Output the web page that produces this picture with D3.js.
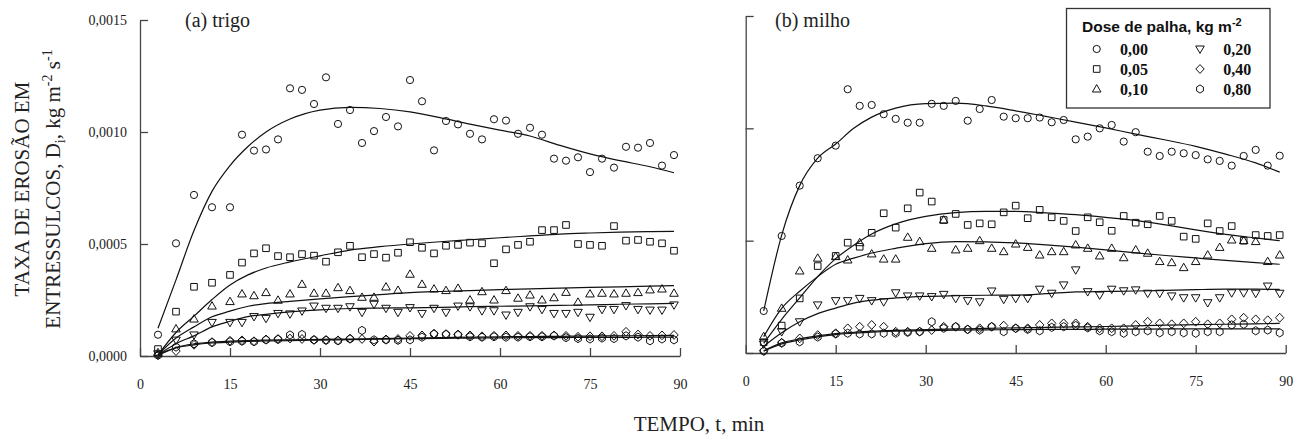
<!DOCTYPE html>
<html>
<head>
<meta charset="utf-8">
<script src="https://cdnjs.cloudflare.com/ajax/libs/d3/7.8.5/d3.min.js"></script>
<style>
	body { margin: 0; background: #fff; }
	svg { display: block; }
	.axis path, .axis line { stroke: #444; stroke-width: 1.3; }
	.title { font-family: "Liberation Serif", "Times New Roman", serif; font-size: 21px; fill: #222; }
	.panel-label { font-family: "Liberation Serif", "Times New Roman", serif; font-size: 20px; fill: #222; }
</style>
</head>
<body>
<svg width="1295" height="435" id="chart"></svg>
<script>
// values in 10^-6 kg m-2 s-1
var times = [3, 6, 9, 12, 15, 17, 19, 21, 23, 25, 27, 29, 31, 33, 35, 37, 39, 41, 43, 45, 47,
	49, 51, 53, 55, 57, 59, 61, 63, 65, 67, 69, 71, 73, 75, 77, 79, 81, 83, 85, 87, 89];
var fitTimes = [3, 6, 9, 12, 15, 18, 21, 25, 30, 35, 40, 45, 50, 55, 60, 65, 70, 75, 80, 85, 89];

var doses = ["0,00", "0,05", "0,10", "0,20", "0,40", "0,80"];
var xTicks = [0, 15, 30, 45, 60, 75, 90];
var yTicks = [0, 500, 1000, 1500];

// (a) trigo - measured
var trigo000 = [95, 503, 719, 664, 664, 988, 917, 922, 967, 1195, 1188, 1125, 1244, 1036, 1098, 951, 1004, 1067, 1025, 1232, 1137,
	918, 1049, 1034, 992, 967, 1057, 1051, 992, 1019, 988, 881, 872, 887, 821, 881, 841, 934, 930, 951, 850, 897];
var trigo005 = [31, 198, 309, 327, 362, 417, 458, 481, 446, 441, 455, 448, 421, 463, 492, 441, 455, 439, 461, 508, 483,
	458, 492, 496, 506, 503, 414, 476, 496, 510, 562, 562, 585, 500, 496, 492, 580, 515, 518, 510, 503, 470];
var trigo010 = [15, 121, 165, 223, 243, 277, 269, 283, 249, 277, 320, 280, 280, 305, 292, 262, 262, 308, 293, 365, 320,
	299, 292, 302, 250, 287, 250, 292, 258, 272, 250, 260, 284, 240, 277, 280, 277, 280, 283, 295, 299, 280];
var trigo020 = [10, 71, 94, 150, 150, 150, 176, 168, 190, 188, 201, 223, 213, 213, 220, 195, 231, 213, 195, 216, 190,
	213, 195, 223, 220, 202, 202, 183, 195, 220, 208, 190, 190, 195, 173, 208, 208, 225, 208, 205, 205, 228];
var trigo040 = [5, 22, 50, 62, 68, 70, 66, 74, 76, 78, 76, 72, 72, 70, 78, 76, 64, 74, 76, 90, 92,
	100, 98, 96, 92, 88, 90, 92, 90, 90, 90, 92, 90, 86, 88, 88, 90, 108, 96, 90, 92, 94];
var trigo080 = [3, 40, 55, 60, 64, 66, 64, 72, 74, 94, 96, 72, 70, 68, 76, 114, 72, 72, 70, 72, 84,
	98, 96, 94, 86, 84, 86, 84, 84, 86, 86, 90, 82, 78, 76, 80, 78, 90, 84, 68, 76, 72];

// (a) trigo - fitted curves
var trigoFit000 = [124, 340, 560, 735, 850, 935, 1000, 1058, 1098, 1110, 1105, 1090, 1064, 1035, 1008, 982, 940, 902, 872, 845, 818];
var trigoFit005 = [5, 105, 178, 252, 317, 362, 393, 420, 447, 473, 488, 500, 510, 519, 528, 536, 544, 549, 553, 555, 556];
var trigoFit010 = [5, 80, 130, 175, 200, 222, 234, 244, 255, 265, 274, 283, 288, 292, 296, 300, 303, 306, 309, 312, 314];
var trigoFit020 = [5, 55, 90, 130, 155, 176, 186, 197, 206, 212, 214, 215, 217, 220, 222, 224, 226, 228, 231, 233, 235];
var trigoFit040 = [5, 38, 54, 62, 66, 69, 71, 72, 74, 76, 78, 80, 82, 84, 86, 87, 88, 89, 90, 91, 92];
var trigoFit080 = [3, 36, 50, 58, 62, 65, 67, 69, 71, 73, 75, 77, 79, 80, 81, 82, 82, 83, 83, 84, 84];

// (b) milho - measured
var milho000 = [187, 521, 745, 867, 923, 1174, 1100, 1104, 1063, 1042, 1025, 1025, 1109, 1100, 1122, 1034, 1086, 1126, 1052, 1045, 1045,
	1048, 1027, 1037, 951, 963, 1000, 1015, 941, 983, 896, 877, 896, 889, 881, 862, 855, 834, 877, 904, 834, 878];
var milho005 = [48, 122, 243, 387, 432, 491, 473, 535, 622, 558, 644, 714, 674, 592, 619, 570, 577, 573, 626, 656, 600,
	637, 604, 588, 543, 604, 582, 544, 610, 580, 573, 610, 588, 518, 508, 577, 543, 565, 500, 525, 521, 525];
var milho010 = [73, 199, 365, 422, 429, 414, 491, 441, 418, 418, 515, 496, 466, 592, 459, 466, 500, 466, 451, 485, 470,
	436, 451, 451, 481, 466, 432, 466, 424, 459, 444, 407, 402, 380, 407, 436, 470, 503, 500, 496, 407, 436];
var milho020 = [40, 95, 139, 214, 233, 233, 243, 233, 228, 268, 254, 254, 251, 261, 243, 233, 228, 276, 239, 243, 243,
	284, 266, 303, 370, 273, 258, 284, 277, 281, 266, 266, 254, 246, 246, 224, 246, 268, 268, 266, 298, 266];
var milho040 = [10, 46, 65, 80, 88, 110, 117, 125, 117, 95, 95, 95, 102, 117, 117, 105, 110, 117, 122, 110, 110,
	125, 132, 132, 132, 117, 110, 110, 110, 125, 139, 132, 128, 132, 139, 128, 132, 150, 157, 150, 146, 157];
var milho080 = [8, 44, 50, 71, 85, 88, 85, 85, 88, 88, 92, 95, 139, 110, 117, 105, 102, 117, 95, 110, 105,
	99, 114, 117, 122, 112, 99, 95, 88, 95, 99, 90, 95, 90, 88, 95, 95, 125, 128, 99, 102, 90];

// (b) milho - fitted curves
var milhoFit000 = [187, 525, 745, 867, 930, 1000, 1050, 1090, 1110, 1112, 1100, 1078, 1053, 1028, 1002, 974, 948, 920, 885, 846, 805];
var milhoFit005 = [43, 150, 245, 340, 420, 480, 530, 575, 608, 625, 630, 630, 624, 616, 604, 590, 570, 548, 528, 512, 500];
var milhoFit010 = [73, 199, 275, 340, 395, 422, 445, 466, 487, 496, 495, 490, 481, 471, 459, 446, 434, 423, 412, 402, 395];
var milhoFit020 = [30, 90, 139, 175, 200, 222, 235, 245, 252, 255, 257, 258, 264, 272, 274, 276, 279, 282, 284, 284, 283];
var milhoFit040 = [10, 45, 63, 76, 86, 92, 97, 101, 104, 107, 110, 112, 114, 116, 118, 121, 124, 126, 128, 130, 132];
var milhoFit080 = [8, 40, 58, 72, 82, 88, 93, 97, 100, 102, 103, 104, 105, 105, 106, 106, 107, 107, 107, 107, 107];

// marker outlines, one per dose
var markerPaths = [
	"M3.6,0A3.6,3.6 0 1,1 -3.6,0A3.6,3.6 0 1,1 3.6,0Z",
	"M-3.3,-3.3H3.3V3.3H-3.3Z",
	"M0,-4.4L4.3,3H-4.3Z",
	"M0,4.4L4.3,-3H-4.3Z",
	"M0,-4.4L4.2,0L0,4.4L-4.2,0Z",
	"M0,-4.1L3.4,-2L3.4,2L0,4.1L-3.4,2L-3.4,-2Z"
];

var svg = d3.select("svg");
svg.append("rect").attr("width", 1295).attr("height", 435).attr("fill", "#fff");

var panels = [
	{label: "(a) trigo", obs: [trigo000, trigo005, trigo010, trigo020, trigo040, trigo080],
		fit: [trigoFit000, trigoFit005, trigoFit010, trigoFit020, trigoFit040, trigoFit080],
		xr: [140, 680], yr: [356, 20], yLabels: true, labelX: 185},
	{label: "(b) milho", obs: [milho000, milho005, milho010, milho020, milho040, milho080],
		fit: [milhoFit000, milhoFit005, milhoFit010, milhoFit020, milhoFit040, milhoFit080],
		xr: [745.7, 1285.7], yr: [353, 16], yLabels: false, labelX: 775}
];

var fmt = function(d) { return (d / 1e6).toFixed(4).replace(".", ","); };

panels.forEach(function(p) {
	var x = d3.scaleLinear().domain([0, 90]).range(p.xr),
		y = d3.scaleLinear().domain([0, 1500]).range(p.yr);

	var g = svg.append("g");

	//axes, ticks pointing inward
	var xa = g.append("g")
		.attr("class", "axis")
		.attr("transform", "translate(0," + p.yr[0] + ")")
		.call(d3.axisBottom(x).tickValues(xTicks).tickSize(-8).tickSizeOuter(0).tickPadding(23));

	var ya = g.append("g")
		.attr("class", "axis")
		.attr("transform", "translate(" + p.xr[0] + ",0)")
		.call(d3.axisLeft(y).tickValues(yTicks).tickSize(-8).tickSizeOuter(0).tickPadding(13)
			.tickFormat(p.yLabels ? fmt : ""));

	[xa, ya].forEach(function(a) {
		a.attr("font-family", "'Liberation Serif', 'Times New Roman', serif")
			.attr("font-size", 14)
			.selectAll("text").attr("fill", "#222");
	});

	//fitted curves
	var line = d3.line()
		.curve(d3.curveMonotoneX)
		.x(function(d) { return x(d[0]); })
		.y(function(d) { return y(d[1]); });

	p.fit.forEach(function(vals) {
		g.append("path")
			.datum(d3.zip(fitTimes, vals))
			.attr("fill", "none")
			.attr("stroke", "#111")
			.attr("stroke-width", 1.2)
			.attr("d", line);
	});

	//observed points
	p.obs.forEach(function(vals, i) {
		g.append("g").selectAll("path")
			.data(d3.zip(times, vals))
			.enter().append("path")
			.attr("d", markerPaths[i])
			.attr("transform", function(d) { return "translate(" + x(d[0]) + "," + y(d[1]) + ")"; })
			.attr("fill", "none")
			.attr("stroke", "#111")
			.attr("stroke-width", 1);
	});

	g.append("text")
		.attr("class", "panel-label")
		.attr("x", p.labelX)
		.attr("y", 27)
		.text(p.label);
});

//axis titles
var yTitle = svg.append("g").attr("class", "title");
yTitle.append("text")
	.attr("transform", "translate(28.5,189) rotate(-90)")
	.attr("text-anchor", "middle")
	.text("TAXA DE EROSÃO EM");
var t2 = yTitle.append("text")
	.attr("transform", "translate(59.5,189) rotate(-90)")
	.attr("text-anchor", "middle");
t2.append("tspan").text("ENTRESSULCOS, D");
t2.append("tspan").attr("dy", 5).style("font-size", "14px").text("i");
t2.append("tspan").attr("dy", -5).text(", kg m");
t2.append("tspan").attr("dy", -8).style("font-size", "14px").text("-2");
t2.append("tspan").attr("dy", 8).text(" s");
t2.append("tspan").attr("dy", -8).style("font-size", "14px").text("-1");

svg.append("text")
	.attr("class", "title")
	.attr("x", 699)
	.attr("y", 431)
	.attr("text-anchor", "middle")
	.text("TEMPO, t, min");

//legend
var legend = svg.append("g");
legend.append("rect")
	.attr("x", 1066.5).attr("y", 8.5)
	.attr("width", 203.5).attr("height", 99.5)
	.attr("fill", "#fff")
	.attr("stroke", "#333")
	.attr("stroke-width", 1.3);

var lt = legend.append("text")
	.attr("x", 1082)
	.attr("y", 32)
	.style("font", "bold 15.5px 'Liberation Sans', Arial, sans-serif")
	.attr("fill", "#111");
lt.append("tspan").text("Dose de palha, kg m");
lt.append("tspan").attr("dy", -6).style("font-size", "11px").text("-2");

doses.forEach(function(d, i) {
	var col = Math.floor(i / 3), row = i % 3;
	var mx = col ? 1200 : 1096.7, cy = 49 + row * 20;
	legend.append("path")
		.attr("d", markerPaths[i])
		.attr("transform", "translate(" + mx + "," + cy + ")")
		.attr("fill", "none")
		.attr("stroke", "#111")
		.attr("stroke-width", 1);
	legend.append("text")
		.attr("x", mx + 23.3)
		.attr("y", cy + 6)
		.style("font", "bold 16px 'Liberation Serif', 'Times New Roman', serif")
		.attr("fill", "#111")
		.text(d);
});
</script>
</body>
</html>
